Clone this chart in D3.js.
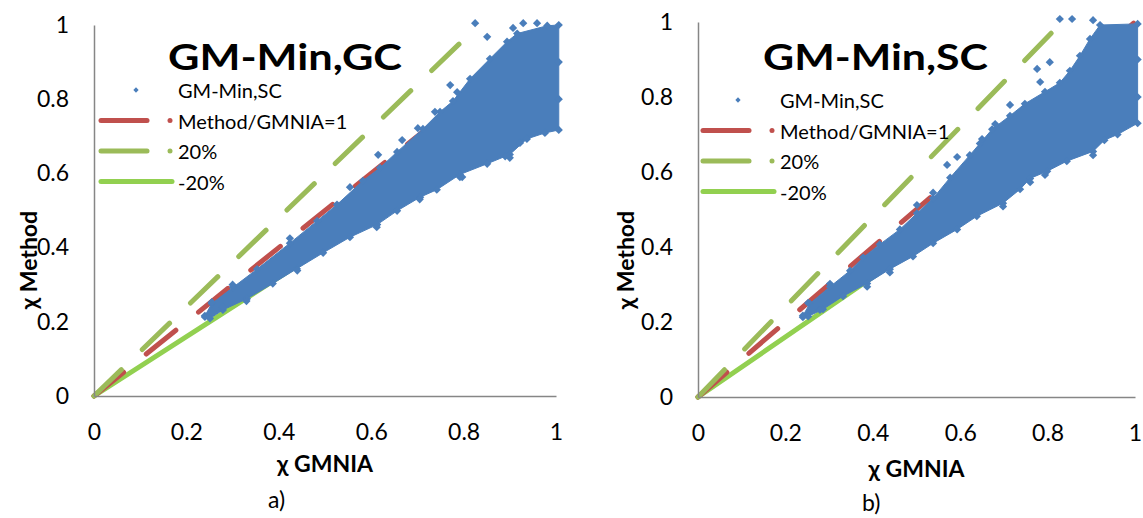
<!DOCTYPE html>
<html>
<head>
<meta charset="utf-8">
<script src="https://cdn.jsdelivr.net/npm/d3@7"></script>
<style>
  body { margin: 0; background: #fff; }
  text { font-family: Lato, "Open Sans", sans-serif; fill: #000; }
</style>
</head>
<body>
<script>
var width = 1143,
  height = 518;

// values
var xTicks = [0, 0.2, 0.4, 0.6, 0.8, 1];
var yTicks = [0, 0.2, 0.4, 0.6, 0.8, 1];
var titles = ["GM-Min,GC", "GM-Min,SC"];
var panelLabels = ["a)", "b)"];
var legendLabels = ["GM-Min,SC", "Method/GMNIA=1", "20%", "-20%"];
var xTitle = "χ GMNIA",
  yTitle = "χ Method";

var lineOne = [[0, 0], [1, 1]];
var linePlus20 = [[0, 0], [0.833, 1]];
var lineMinus20 = [[0, 0], [1, 0.8]];

// dense scatter: upper and lower edge of the point cloud (GMNIA, Method)
var cloudTopA = [[0.240,0.216],[0.255,0.249],[0.301,0.293],[0.353,0.342],[0.424,0.412],[0.483,0.472],[0.526,0.516],[0.582,0.580],[0.619,0.615],[0.656,0.658],[0.712,0.720],[0.749,0.766],[0.777,0.795],[0.814,0.855],[0.857,0.909],[0.894,0.955],[0.916,0.977],[0.981,0.998],[1.006,1.0]];
var cloudBottomA = [[0.251,0.209],[0.279,0.232],[0.331,0.262],[0.387,0.303],[0.439,0.343],[0.496,0.386],[0.554,0.428],[0.613,0.462],[0.656,0.499],[0.706,0.536],[0.742,0.556],[0.792,0.597],[0.851,0.626],[0.900,0.651],[0.937,0.693],[0.976,0.709],[1.006,0.717]];
var pointsA = [[0.825,1.005],[0.851,0.968],[0.907,0.992],[0.929,1.005],[0.959,1.005],[0.771,0.838],[0.786,0.819],[0.738,0.766],[0.701,0.722],[0.667,0.690],[0.615,0.650],[0.554,0.563],[0.792,0.590],[0.900,0.642],[0.922,0.682],[0.240,0.213],[0.255,0.253],[0.279,0.240],[0.797,0.590],[0.890,0.646],[0.612,0.455],[0.705,0.530],[0.440,0.338],[0.330,0.256],[0.300,0.300],[0.424,0.425],[1.006,0.80],[1.006,0.90]];

var cloudTopB = [[0.240,0.217],[0.256,0.249],[0.302,0.294],[0.348,0.337],[0.378,0.372],[0.416,0.407],[0.462,0.447],[0.501,0.490],[0.538,0.530],[0.577,0.585],[0.622,0.645],[0.645,0.676],[0.673,0.714],[0.714,0.750],[0.748,0.782],[0.794,0.814],[0.828,0.838],[0.851,0.870],[0.874,0.910],[0.897,0.955],[0.920,0.992],[1.006,0.995]];
var cloudBottomB = [[0.252,0.215],[0.286,0.234],[0.332,0.269],[0.387,0.303],[0.439,0.341],[0.492,0.375],[0.538,0.410],[0.593,0.447],[0.638,0.482],[0.698,0.517],[0.737,0.554],[0.760,0.583],[0.799,0.602],[0.844,0.629],[0.904,0.655],[0.930,0.685],[0.960,0.700],[1.006,0.730]];
var pointsB = [[0.828,1.008],[0.856,1.008],[0.904,1.005],[0.776,0.875],[0.805,0.893],[0.783,0.840],[0.714,0.779],[0.680,0.728],[0.650,0.688],[0.570,0.619],[0.593,0.640],[0.501,0.512],[0.904,0.645],[0.794,0.592],[0.240,0.213],[0.252,0.251],[0.279,0.232],[0.760,0.573],[0.698,0.508],[0.439,0.332],[0.387,0.294],[0.538,0.545],[0.302,0.302],[1.006,0.80],[1.006,0.90]];

var blue = "#4a7ebb", red = "#c0504d", olive = "#9bbb59", lime = "#92d050", axisGrey = "#868686";

var panels = [
  { left: 94, right: 556, bottom: 396, top: 25, titleX: 168, titleY: 70, titleW: 234,
    legX: 101, legY: 90, xLabY: 472, yLabX: 28, labX: 268, labY: 508,
    top_: cloudTopA, bottom_: cloudBottomA, points: pointsA },
  { left: 698, right: 1135, bottom: 397, top: 22, titleX: 763, titleY: 70, titleW: 225,
    legX: 703, legY: 100, xLabY: 477, yLabX: 625, labX: 862, labY: 511,
    top_: cloudTopB, bottom_: cloudBottomB, points: pointsB }
];

var diamond = d3.symbol().type(d3.symbolSquare).size(34);
var legendDiamond = d3.symbol().type(d3.symbolSquare).size(14);

function drawPanel(svg, p, i) {
  var x = d3.scaleLinear().domain([0, 1]).range([p.left, p.right]);
  var y = d3.scaleLinear().domain([0, 1]).range([p.bottom, p.top]);
  var g = svg.append("g");

  var line = d3.line()
    .x(function(d) { return x(d[0]); })
    .y(function(d) { return y(d[1]); });

  // reference lines below the markers
  g.append("path").attr("d", line(lineMinus20))
    .attr("fill", "none").attr("stroke", lime).attr("stroke-width", 5)
    .attr("stroke-linecap", "round");
  g.append("path").attr("d", line(lineOne))
    .attr("fill", "none").attr("stroke", red).attr("stroke-width", 5)
    .attr("stroke-linecap", "round").attr("stroke-dasharray", "38 29");
  g.append("path").attr("d", line(linePlus20))
    .attr("fill", "none").attr("stroke", olive).attr("stroke-width", 5)
    .attr("stroke-linecap", "round").attr("stroke-dasharray", "38 29");

  // point cloud
  var outline = p.top_.concat(p.bottom_.slice().reverse());
  g.append("path").attr("d", line(outline) + "Z")
    .attr("fill", blue).attr("stroke", blue).attr("stroke-width", 1)
    .attr("stroke-linejoin", "round");

  g.selectAll(".edge")
    .data(p.top_.concat(p.bottom_).concat(p.points))
    .enter()
    .append("path")
    .attr("d", diamond)
    .attr("transform", function(d) {
      return "translate(" + x(d[0]) + "," + y(d[1]) + ") rotate(45)";
    })
    .attr("fill", blue);

  // axes
  var xAxis = d3.axisBottom(x).tickValues(xTicks).tickSize(0).tickPadding(28)
    .tickFormat(function(d) { return String(d); });
  var yAxis = d3.axisLeft(y).tickValues(yTicks).tickSize(0).tickPadding(25)
    .tickFormat(function(d) { return String(d); });

  var gx = g.append("g").attr("transform", "translate(0," + p.bottom + ")").call(xAxis);
  var gy = g.append("g").attr("transform", "translate(" + p.left + ",0)").call(yAxis);
  [gx, gy].forEach(function(a) {
    a.select(".domain").attr("stroke", axisGrey).attr("stroke-width", 1.5);
    a.selectAll("text").attr("font-size", 23).attr("font-family", "Lato, 'Open Sans', sans-serif").attr("fill", "#000");
  });

  // axis titles
  g.append("text")
    .attr("x", (p.left + p.right) / 2).attr("y", p.xLabY)
    .attr("text-anchor", "middle").attr("font-size", 23).attr("font-weight", "bold")
    .text(xTitle);
  g.append("text")
    .attr("transform", "translate(" + (p.yLabX + 9) + ",260) rotate(-90)")
    .attr("text-anchor", "middle").attr("font-size", 23).attr("font-weight", "bold")
    .text(yTitle);

  // chart title
  g.append("text")
    .attr("x", p.titleX).attr("y", p.titleY)
    .attr("font-size", 37).attr("font-weight", "bold")
    .attr("textLength", p.titleW).attr("lengthAdjust", "spacingAndGlyphs")
    .text(titles[i]);

  // legend
  var lx = p.legX, ly = p.legY, rowH = 30.5;
  g.append("path").attr("d", legendDiamond())
    .attr("transform", "translate(" + (lx + 35) + "," + ly + ") rotate(45)")
    .attr("fill", blue);
  var legLines = [
    { color: red, w: 46, dot: true },
    { color: olive, w: 46, dot: true },
    { color: lime, w: 71, dot: false }
  ];
  legLines.forEach(function(l, k) {
    var yy = ly + rowH * (k + 1);
    g.append("line").attr("x1", lx).attr("x2", lx + l.w).attr("y1", yy).attr("y2", yy)
      .attr("stroke", l.color).attr("stroke-width", 5).attr("stroke-linecap", "round");
    if (l.dot) {
      g.append("circle").attr("cx", lx + 69).attr("cy", yy).attr("r", 2.5).attr("fill", l.color);
    }
  });
  g.selectAll(".leg")
    .data(legendLabels)
    .enter()
    .append("text")
    .attr("x", lx + 77)
    .attr("y", function(d, k) { return ly + rowH * k + 8; })
    .attr("font-size", 20)
    .text(function(d) { return d; });

  // panel label
  g.append("text")
    .attr("x", p.labX).attr("y", p.labY)
    .attr("font-size", 23)
    .text(panelLabels[i]);
}

var svg = d3.select("body").append("svg")
  .attr("width", width)
  .attr("height", height);

panels.forEach(function(p, i) { drawPanel(svg, p, i); });
</script>
</body>
</html>
